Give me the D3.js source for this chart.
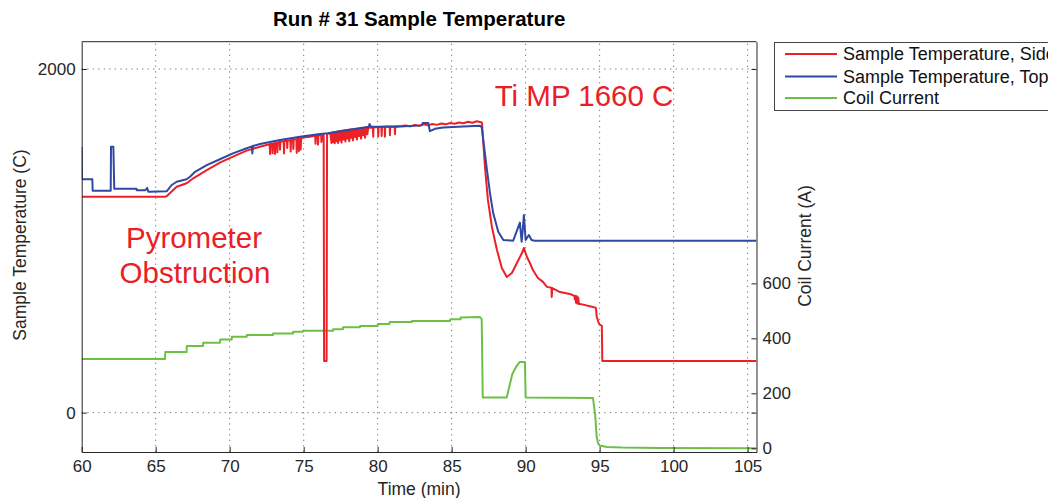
<!DOCTYPE html>
<html>
<head>
<meta charset="utf-8">
<script src="https://cdn.jsdelivr.net/npm/d3@7/dist/d3.min.js"></script>
<style>
  html, body { margin: 0; padding: 0; background: #fff; }
  svg { display: block; font-family: "Liberation Sans", Arial, sans-serif; }
</style>
</head>
<body>
<svg id="chart" width="1048" height="498"></svg>
<script>
// ---------------- DATA ----------------
const chartTitle = "Run # 31 Sample Temperature";
const seriesNames = ["Sample Temperature, Side", "Sample Temperature, Top", "Coil Current"];
const xTicks = [60, 65, 70, 75, 80, 85, 90, 95, 100, 105];
const leftTicks = [0, 2000];
const rightTicks = [0, 200, 400, 600];
const xLabel = "Time (min)";
const leftLabel = "Sample Temperature (C)";
const rightLabel = "Coil Current (A)";

// Sample Temperature, Side  [time (min), temperature (C)]
const sideTemp = [
  [60,1257],[65.63,1257],[65.74,1260],[66.42,1315],[67.09,1335],[67.54,1364],[68.45,1412],[69.34,1455],
  [70.22,1490],[71.15,1525],[72.05,1548],
  [72.7,1562],[72.73,1505],[72.76,1563],[72.88,1565],[72.9,1510],[72.93,1566],[73.04,1568],[73.06,1505],
  [73.09,1569],[73.2,1571],[73.22,1515],[73.25,1572],[73.38,1576],[73.4,1530],[73.43,1577],[73.65,1580],
  [73.67,1508],[73.7,1581],[73.87,1583],[73.89,1540],[73.92,1584],[74.1,1586],[74.12,1520],[74.15,1587],
  [74.28,1589],[74.3,1535],[74.33,1590],[74.51,1592],[74.53,1512],[74.56,1593],[74.66,1594],[74.68,1522],
  [74.71,1595],[74.75,1597],[74.8,1532],[74.83,1598],
  [75.3,1605],[75.78,1611],[75.8,1565],[75.83,1612],[75.95,1613],[75.97,1560],[76.0,1614],[76.18,1616],
  [76.2,1575],[76.23,1617],[76.35,1620],[76.38,300],[76.55,300],[76.58,1622],
  [76.8,1628],[76.88,1570],[76.92,1630],[76.98,1575],[77.03,1632],[77.1,1568],[77.15,1634],[77.22,1580],
  [77.27,1636],[77.33,1570],[77.38,1638],[77.45,1585],[77.5,1640],[77.56,1572],[77.62,1642],[77.7,1590],
  [77.75,1643],[77.82,1578],[77.88,1645],[77.95,1595],[78.0,1646],[78.08,1580],[78.13,1648],[78.2,1600],
  [78.26,1649],[78.33,1585],[78.4,1650],[78.47,1605],[78.53,1651],[78.6,1590],[78.66,1652],[78.74,1610],
  [78.8,1654],[78.88,1595],[78.94,1655],[79.02,1615],[79.08,1656],[79.15,1600],[79.22,1657],[79.3,1620],
  [79.36,1658],
  [79.68,1660],[79.7,1606],[79.72,1661],[80.02,1662],[80.04,1608],[80.06,1663],[80.25,1663],[80.27,1610],
  [80.29,1664],[80.47,1664],[80.49,1606],[80.51,1665],[80.81,1665],[80.83,1615],[80.85,1666],[81.15,1666],
  [81.17,1620],[81.19,1667],
  [81.6,1668],[81.9,1672],[82.2,1666],[82.5,1674],[82.8,1670],[83.1,1678],[83.4,1672],[83.7,1680],
  [84.0,1675],[84.3,1683],[84.6,1678],[84.9,1686],[85.2,1681],[85.5,1689],[85.8,1684],[86.1,1693],
  [86.4,1687],[86.7,1696],[86.9,1692],[87.0,1690],
  [87.05,1686],[87.25,1430],[87.45,1238],[87.72,1081],[88.06,947],[88.39,842],[88.73,790],[89.07,813],
  [89.41,871],[89.75,929],[89.88,958],[90.09,906],[90.29,871],[90.49,830],[90.83,784],[91.17,761],
  [91.44,732],[91.74,727],[91.76,673],[91.8,725],[92.32,702],[92.99,691],
  [93.3,679],[93.33,660],[93.36,680],[93.4,640],[93.45,678],[93.5,635],[93.55,670],[93.6,633],[93.67,633],
  [94.55,615],[94.75,610],[94.8,560],[94.9,530],[95.0,513],[95.15,505],[95.18,300],[105.6,300]
];

// Sample Temperature, Top  [time (min), temperature (C)]
const topTemp = [
  [60,1546],[60.02,1359],[60.72,1359],[60.74,1292],[61.96,1292],[61.98,1548],[62.14,1548],[62.2,1303],
  [63.7,1303],[63.72,1294],[64.28,1294],[64.43,1308],[64.5,1286],[65.74,1288],[66.08,1325],[66.42,1344],
  [67.09,1358],[67.32,1373],[67.66,1402],[68.45,1441],[69.34,1475],[70.22,1509],[71.15,1539],[71.5,1550],
  [71.53,1509],[71.57,1552],[72.05,1564],[73.4,1587],[74.75,1606],[76.1,1622],[76.64,1626],[78.2,1648],
  [79.4,1664],[79.45,1680],[79.55,1664],[81.28,1664],[82.97,1672],[83.05,1686],[83.42,1686],[83.53,1638],
  [83.87,1652],[84.43,1660],[85.78,1666],[86.91,1670],[87.03,1662],
  [87.36,1431],[87.59,1277],[87.81,1160],[88.15,1053],[88.49,1005],[89.16,1001],[89.61,1106],[89.73,995],
  [89.8,1060],[89.88,1150],[90.0,1005],[90.22,1034],[90.4,1005],[90.6,1001],[105.6,1001]
];

// Coil Current  [time (min), current (A)]
const coilCurrent = [
  [60,325],[65.63,325],[65.65,350],[67.09,350],[67.1,372],[68.2,372],[68.21,384],[69.35,384],[69.36,396],
  [70.14,396],[70.15,406],[71.15,406],[71.16,412],[72.93,412],[72.94,418],[74.28,418],[74.29,424],
  [74.95,424],[74.96,428],[76.98,428],[76.99,433],[77.65,433],[77.66,440],[78.8,440],[78.81,445],
  [80.0,445],[80.01,452],[80.8,452],[80.81,459],[82.3,459],[82.31,463],[84.9,463],[84.91,469],[85.6,469],
  [85.61,476],[86.9,478],[87.03,470],[87.1,185],[88.72,185],[88.9,225],[89.1,270],[89.4,300],[89.6,314],
  [89.95,314],[90.0,185],[94.55,183],[94.7,120],[94.8,40],[94.9,18],[95.0,10],[95.5,5],[96.5,3],[99,1],
  [105.6,0]
];

// ---------------- CHART ----------------
const svg = d3.select("#chart");
const L = 81.7, R = 756.5, T = 41.7, B = 452;
const axisColor = "#262626";
const FONT = "'Liberation Sans', Arial, sans-serif";

const x = d3.scaleLinear().domain([60, 105.6]).range([L, R]);
const yL = d3.scaleLinear().domain([-229, 2159]).range([B, T]);
const yR = d3.scaleLinear().domain([-13.5, 1479]).range([B, T]);

svg.append("defs").append("clipPath").attr("id", "clip")
  .append("rect").attr("x", L).attr("y", T).attr("width", R - L).attr("height", B - T);

// grid
const grid = svg.append("g").attr("stroke", "#7a7a7a").attr("stroke-width", 1)
  .attr("stroke-dasharray", "1.3,4.2");
grid.selectAll("line.vx").data(xTicks.filter(d => d > 60)).enter().append("line")
  .attr("x1", d => x(d)).attr("x2", d => x(d)).attr("y1", B).attr("y2", T);
grid.selectAll("line.hy").data(leftTicks).enter().append("line")
  .attr("x1", L).attr("x2", R).attr("y1", d => yL(d)).attr("y2", d => yL(d));

// series lines
const plot = svg.append("g").attr("clip-path", "url(#clip)");
const lineL = d3.line().x(d => x(d[0])).y(d => yL(d[1]));
const lineR = d3.line().x(d => x(d[0])).y(d => yR(d[1]));
const colors = ["#ed2028", "#2f49a3", "#6cc046"];

plot.append("path").datum(coilCurrent).attr("d", lineR)
  .attr("fill", "none").attr("stroke", colors[2]).attr("stroke-width", 2).attr("stroke-linejoin", "round");
plot.append("path").datum(sideTemp).attr("d", lineL)
  .attr("fill", "none").attr("stroke", colors[0]).attr("stroke-width", 2).attr("stroke-linejoin", "round");
plot.append("path").datum(topTemp).attr("d", lineL)
  .attr("fill", "none").attr("stroke", colors[1]).attr("stroke-width", 2).attr("stroke-linejoin", "round");

// axes
const tickFont = "17px";
const labelFont = "17.5px";
const xAxis = svg.append("g").attr("transform", `translate(0,${B})`)
  .call(d3.axisBottom(x).tickValues(xTicks).tickSizeInner(-5).tickSizeOuter(0).tickPadding(8).tickFormat(d3.format("d")));
const yAxisL = svg.append("g").attr("transform", `translate(${L},0)`)
  .call(d3.axisLeft(yL).tickValues(leftTicks).tickSizeInner(-5).tickSizeOuter(0).tickPadding(6).tickFormat(d3.format("d")));
const yAxisR = svg.append("g").attr("transform", `translate(${R},0)`)
  .call(d3.axisRight(yR).tickValues(rightTicks).tickSizeInner(-5).tickSizeOuter(0).tickPadding(6).tickFormat(d3.format("d")));
const yAxisRM = svg.append("g").attr("transform", `translate(${R},0)`)
  .call(d3.axisRight(yL).tickValues(leftTicks).tickSizeInner(-5).tickSizeOuter(0).tickFormat(""));
yAxisRM.select(".domain").remove();

[xAxis, yAxisL, yAxisR, yAxisRM].forEach(g => {
  g.selectAll("text").attr("fill", axisColor).style("font-size", tickFont).style("font-family", FONT);
  g.selectAll("line").attr("stroke", axisColor);
  g.selectAll(".domain").attr("stroke", axisColor);
});

// box top
svg.append("line").attr("x1", L).attr("x2", R).attr("y1", T).attr("y2", T)
  .attr("stroke", axisColor).attr("stroke-width", 1);

// title
svg.append("text").attr("x", (L + R) / 2).attr("y", 26).attr("text-anchor", "middle")
  .style("font-size", "20.5px").style("font-weight", "bold").attr("fill", "#000").text(chartTitle);

// axis labels
svg.append("text").attr("x", (L + R) / 2).attr("y", 495).attr("text-anchor", "middle")
  .style("font-size", labelFont).attr("fill", axisColor).text(xLabel);
svg.append("text").attr("transform", `translate(26,245) rotate(-90)`).attr("text-anchor", "middle")
  .style("font-size", labelFont).attr("fill", axisColor).text(leftLabel);
svg.append("text").attr("transform", `translate(811,246) rotate(-90)`).attr("text-anchor", "middle")
  .style("font-size", labelFont).attr("fill", axisColor).text(rightLabel);

// annotations
const annRed = "#ea2027";
svg.append("text").attr("x", 584).attr("y", 106).attr("text-anchor", "middle")
  .style("font-size", "29.5px").attr("fill", annRed).text("Ti MP 1660 C");
svg.append("text").attr("x", 194).attr("y", 248).attr("text-anchor", "middle")
  .style("font-size", "29.5px").attr("fill", annRed).text("Pyrometer");
svg.append("text").attr("x", 195).attr("y", 283).attr("text-anchor", "middle")
  .style("font-size", "29.5px").attr("fill", annRed).text("Obstruction");

// legend
const lg = svg.append("g");
lg.append("rect").attr("x", 774.5).attr("y", 42.5).attr("width", 300).attr("height", 68)
  .attr("fill", "#fff").attr("stroke", "#444").attr("stroke-width", 1);
const legendRows = [54, 76.5, 98];
seriesNames.forEach((name, i) => {
  lg.append("line").attr("x1", 785).attr("x2", 837).attr("y1", legendRows[i]).attr("y2", legendRows[i])
    .attr("stroke", colors[i]).attr("stroke-width", 2);
  lg.append("text").attr("x", 843).attr("y", legendRows[i]).attr("dy", "0.36em")
    .style("font-size", "18px").attr("fill", "#111").text(name);
});
</script>
</body>
</html>
